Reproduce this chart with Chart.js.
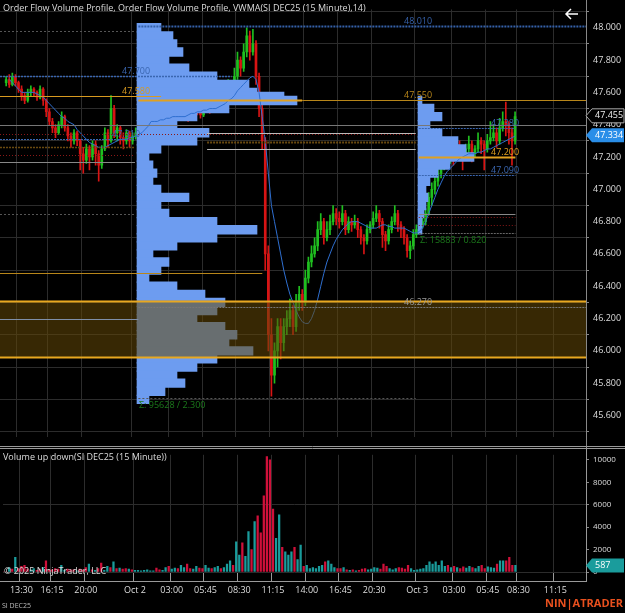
<!DOCTYPE html>
<html>
<head>
<meta charset="utf-8">
<script src="https://cdn.jsdelivr.net/npm/chart.js@4.4.1/dist/chart.umd.min.js"></script>
<style>
  body { margin:0; background:#000; }
  #wrap { position:relative; width:625px; height:613px; overflow:hidden; background:#000; }
  canvas { position:absolute; left:0; }
  #top { top:0; }
  #vol { top:446px; }
</style>
</head>
<body>
<div id="wrap">
  <canvas id="top" width="625" height="446"></canvas>
  <canvas id="vol" width="625" height="167"></canvas>
</div>
<script>
const N = 191;
const timeIdx = [6,16,27,43,55,66,77,88,99,110,121,135,147,158,168,180];
const timeLabels = ['13:30','16:15','20:00','Oct 2','03:00','05:45','08:30','11:15','14:00','16:45','20:30','Oct 3','03:00','05:45','08:30','11:15'];

// [open, high, low, close] per 15 minute bar
const candles = [null,null,
[47.66,47.70,47.64,47.68],[47.68,47.71,47.63,47.65],[47.65,47.72,47.64,47.70],[47.70,47.71,47.64,47.66],[47.66,47.67,47.60,47.62],
[47.62,47.64,47.55,47.58],[47.58,47.60,47.53,47.55],[47.55,47.62,47.54,47.60],[47.60,47.64,47.58,47.62],[47.62,47.63,47.58,47.60],
[47.60,47.61,47.55,47.57],[47.57,47.64,47.56,47.62],[47.62,47.63,47.52,47.55],[47.55,47.56,47.45,47.48],[47.48,47.50,47.40,47.42],
[47.42,47.44,47.35,47.38],[47.38,47.40,47.32,47.35],[47.35,47.42,47.34,47.40],[47.40,47.48,47.38,47.45],[47.45,47.46,47.36,47.38],
[47.38,47.40,47.30,47.33],[47.33,47.35,47.26,47.30],[47.30,47.37,47.28,47.35],[47.35,47.36,47.27,47.30],[47.30,47.31,47.12,47.22],
[47.22,47.26,47.10,47.18],[47.18,47.28,47.16,47.25],[47.25,47.27,47.12,47.20],[47.20,47.30,47.18,47.28],[47.28,47.30,47.15,47.22],
[47.22,47.24,47.05,47.15],[47.15,47.27,47.13,47.25],[47.25,47.38,47.24,47.35],[47.35,47.37,47.26,47.30],[47.30,47.58,47.29,47.50],
[47.50,47.52,47.32,47.35],[47.35,47.40,47.30,47.38],[47.38,47.39,47.28,47.32],[47.32,47.35,47.25,47.30],[47.30,47.37,47.28,47.35],
[47.35,47.36,47.26,47.30],[47.30,47.35,47.28,47.33],[47.33,47.38,47.31,47.35],[47.35,47.37,47.32,47.35],[47.35,47.40,47.33,47.38],
[47.38,47.42,47.36,47.40],[47.40,47.44,47.38,47.42],[47.42,47.47,47.40,47.45],[47.45,47.46,47.40,47.42],[47.42,47.43,47.37,47.40],
[47.40,47.46,47.39,47.44],[47.44,47.48,47.42,47.46],[47.46,47.47,47.41,47.43],[47.43,47.47,47.42,47.45],[47.45,47.50,47.44,47.48],
[47.48,47.49,47.43,47.45],[47.45,47.49,47.44,47.47],[47.47,47.52,47.46,47.50],[47.50,47.51,47.44,47.46],[47.46,47.47,47.42,47.44],
[47.44,47.49,47.43,47.47],[47.47,47.52,47.46,47.50],[47.50,47.51,47.46,47.48],[47.48,47.49,47.44,47.46],[47.46,47.52,47.45,47.50],
[47.50,47.55,47.49,47.52],[47.52,47.53,47.47,47.49],[47.49,47.52,47.48,47.50],[47.50,47.55,47.49,47.52],[47.52,47.53,47.48,47.50],
[47.50,47.58,47.49,47.55],[47.55,47.63,47.54,47.60],[47.60,47.68,47.58,47.65],[47.65,47.66,47.58,47.62],[47.62,47.75,47.60,47.70],
[47.70,47.85,47.68,47.80],[47.80,47.82,47.70,47.75],[47.75,47.90,47.73,47.85],[47.85,48.00,47.82,47.95],[47.95,47.98,47.80,47.85],
[47.85,47.99,47.83,47.90],[47.90,47.92,47.65,47.70],[47.70,47.72,47.45,47.50],[47.50,47.55,47.25,47.30],[47.30,47.32,46.50,46.60],
[46.60,46.65,46.00,46.10],[46.10,46.20,45.72,45.85],[45.85,46.05,45.80,46.00],[46.00,46.20,45.90,46.15],[46.15,46.20,45.95,46.05],
[46.05,46.20,46.00,46.15],[46.15,46.25,46.10,46.20],[46.20,46.32,46.15,46.25],[46.25,46.28,46.10,46.15],[46.15,46.35,46.12,46.30],
[46.30,46.40,46.25,46.35],[46.35,46.38,46.25,46.30],[46.30,46.50,46.28,46.45],[46.45,46.58,46.42,46.55],[46.55,46.65,46.52,46.60],
[46.60,46.70,46.58,46.65],[46.65,46.80,46.62,46.75],[46.75,46.85,46.72,46.80],[46.80,46.82,46.66,46.70],[46.70,46.80,46.68,46.75],
[46.75,46.84,46.72,46.80],[46.80,46.90,46.78,46.85],[46.85,46.88,46.78,46.82],[46.82,46.86,46.76,46.80],[46.80,46.90,46.78,46.85],
[46.85,46.87,46.72,46.75],[46.75,46.83,46.73,46.80],[46.80,46.82,46.74,46.78],[46.78,46.84,46.76,46.80],[46.80,46.82,46.70,46.75],
[46.75,46.77,46.66,46.70],[46.70,46.72,46.60,46.68],[46.68,46.78,46.66,46.75],[46.75,46.80,46.73,46.78],[46.78,46.86,46.76,46.82],
[46.82,46.90,46.80,46.85],[46.85,46.87,46.76,46.80],[46.80,46.82,46.64,46.72],[46.72,46.74,46.62,46.68],[46.68,46.78,46.66,46.75],
[46.75,46.83,46.73,46.80],[46.80,46.90,46.78,46.85],[46.85,46.87,46.74,46.78],[46.78,46.80,46.70,46.75],[46.75,46.77,46.66,46.70],
[46.70,46.72,46.58,46.62],[46.62,46.68,46.57,46.65],[46.65,46.75,46.63,46.72],[46.72,46.78,46.70,46.75],[46.75,46.80,46.73,46.78],
[46.78,46.84,46.76,46.80],[46.80,46.88,46.78,46.85],[46.85,46.98,46.84,46.95],[46.95,47.04,46.90,47.00],[47.00,47.08,46.97,47.05],
[47.05,47.14,47.02,47.10],[47.10,47.18,47.07,47.15],[47.15,47.23,47.12,47.20],[47.20,47.22,47.14,47.18],[47.18,47.26,47.16,47.22],
[47.22,47.24,47.15,47.20],[47.20,47.28,47.18,47.25],[47.25,47.30,47.18,47.22],[47.22,47.24,47.12,47.20],[47.20,47.28,47.18,47.25],
[47.25,47.33,47.23,47.28],[47.28,47.30,47.17,47.22],[47.22,47.27,47.20,47.25],[47.25,47.35,47.23,47.30],[47.30,47.32,47.22,47.28],
[47.28,47.30,47.12,47.25],[47.25,47.34,47.23,47.30],[47.30,47.42,47.28,47.32],[47.32,47.40,47.30,47.35],[47.35,47.38,47.26,47.30],
[47.30,47.44,47.28,47.38],[47.38,47.48,47.36,47.42],[47.42,47.54,47.33,47.40],[47.40,47.42,47.28,47.35],[47.35,47.38,47.15,47.30],
[47.30,47.48,47.28,47.45]
];

const vwma = [null,null,null,47.68,47.66,47.64,47.62,47.60,47.60,47.60,47.60,47.60,47.59,47.58,47.57,47.55,47.53,47.51,47.49,47.47,
47.45,47.44,47.42,47.41,47.40,47.37,47.35,47.33,47.31,47.29,47.28,47.27,47.26,47.26,47.26,47.27,47.28,47.29,47.30,47.31,
47.31,47.31,47.32,47.32,47.33,47.34,47.35,47.37,47.39,47.42,47.42,47.42,47.43,47.43,47.44,47.44,47.45,47.45,47.45,47.45,
47.45,47.46,47.47,47.47,47.48,47.48,47.49,47.49,47.50,47.50,47.50,47.51,47.52,47.53,47.55,47.56,47.58,47.61,47.63,47.65,
47.67,47.69,47.70,47.68,47.60,47.45,47.30,47.10,46.90,46.80,46.70,46.60,46.50,46.42,46.35,46.30,46.25,46.21,46.18,46.17,
46.17,46.20,46.25,46.32,46.40,46.48,46.55,46.60,46.65,46.69,46.72,46.75,46.77,46.79,46.80,46.80,46.80,46.79,46.78,46.77,
46.76,46.76,46.76,46.77,46.78,46.78,46.77,46.77,46.76,46.76,46.76,46.76,46.75,46.74,46.73,46.73,46.74,46.76,46.80,46.85,
46.90,46.95,47.00,47.04,47.08,47.11,47.13,47.15,47.17,47.19,47.20,47.21,47.22,47.22,47.22,47.23,47.23,47.24,47.25,47.25,
47.26,47.27,47.28,47.29,47.30,47.31,47.32,47.33];

const volumes = [0,0,400,250,1300,300,500,600,250,200,
300,150,250,400,1000,200,200,300,250,600,
150,250,200,200,100,250,200,400,700,200,
150,300,800,150,500,400,900,300,350,250,
300,250,200,150,150,100,150,200,100,100,
350,200,150,400,500,250,350,300,600,400,
700,300,250,500,350,300,600,350,300,400,
500,300,400,700,1000,600,2700,1500,2600,1400,
3600,2000,4500,5000,3500,6800,10300,10000,5600,3000,
5100,2200,1800,1500,1800,2200,1100,2400,500,600,
300,400,300,500,600,900,1000,700,400,300,
300,400,200,150,200,100,150,250,300,200,
250,400,350,250,700,500,300,200,300,400,
350,250,600,300,150,200,250,300,600,900,
700,900,600,1000,500,600,400,500,400,300,
450,350,500,400,300,500,600,300,450,400,
350,700,1000,1000,1000,1300,600,587];

// session profiles: price rows and volume (arbitrary units)
const prof1Prices = [48.00,47.95,47.90,47.85,47.80,47.75,47.70,47.65,47.60,47.575,47.55,47.50,47.45,47.40,47.35,47.30,47.25,47.20,47.15,47.10,
47.05,47.00,46.95,46.90,46.85,46.80,46.75,46.70,46.65,46.60,46.55,46.50,46.45,46.40,46.35,46.30,46.25,46.20,46.15,46.10,
46.05,46.00,45.95,45.90,45.85,45.80,45.75,45.70];
const prof1Vol = [24,36,40,46,32,52,80,112,120,147,160,92,60,40,72,60,24,12,16,20,
16,24,52,24,32,80,120,80,40,16,32,24,12,40,68,88,80,60,88,100,
92,116,80,60,40,48,28,12];
const prof2Prices = [47.55,47.50,47.45,47.40,47.35,47.30,47.25,47.20,47.15,47.10,47.05,47.00,46.95,46.90,46.85,46.80,46.75];
const prof2Vol = [4,16,24,12,24,40,48,56,32,20,12,8,10,8,6,4,4];

const slotLabels = Array(N).fill('');
timeIdx.forEach((k, i) => slotLabels[k] = timeLabels[i]);

const UP = '#1fbf1f', DN = '#d81414';
const font9 = { family: 'Open Sans', size: 9 };

const levels = [
  { p:48.01, a:44.6, b:N, c:'#3560a8', w:2, d:[2,1], t:'48.010', tx:404 },
  { p:47.98, a:0, b:43.5, c:'#555', w:1, d:[2,2] },
  { p:47.70, a:0, b:75, c:'#3a66b0', w:1.5, d:[2,1], t:'47.700', tx:122 },
  { p:47.58, a:0, b:52, c:'#d89a20', w:1, d:[], t:'47.580', tx:122 },
  { p:47.55, a:44.6, b:98, c:'#e0a020', w:2, d:[] },
  { p:47.55, a:98, b:N, c:'#b8861a', w:1, d:[], t:'47.550', tx:404 },
  { p:47.40, a:0, b:N, c:'#777', w:1, d:[] },
  { p:47.38, a:136, b:167.5, c:'#3a66b0', w:1, d:[2,1], t:'47.380', tx:491 },
  { p:47.35, a:67, b:135, c:'#bbb', w:1, d:[] },
  { p:47.34, a:0, b:135, c:'#8a1818', w:1, d:[1,2] },
  { p:47.31, a:0, b:43.5, c:'#3a66b0', w:1, d:[2,1], t:'47.310', tx:112 },
  { p:47.29, a:67, b:135, c:'#6a4a10', w:2, d:[2,1] },
  { p:47.26, a:0, b:43.5, c:'#6a4a10', w:1.5, d:[2,1] },
  { p:47.25, a:67, b:135, c:'#bbb', w:1, d:[] },
  { p:47.21, a:0, b:43.5, c:'#8a1818', w:1, d:[1,2] },
  { p:47.20, a:136, b:167.5, c:'#e0a020', w:2, d:[], t:'47.200', tx:491 },
  { p:47.17, a:0, b:43.5, c:'#888', w:1, d:[] },
  { p:47.09, a:136, b:167.5, c:'#3a66b0', w:1, d:[2,1], t:'47.090', tx:491 },
  { p:46.85, a:0, b:43.5, c:'#555', w:1, d:[2,2] },
  { p:46.85, a:136, b:167.5, c:'#888', w:1, d:[] },
  { p:46.83, a:136, b:167.5, c:'#8a1818', w:1, d:[1,2] },
  { p:46.78, a:136, b:167.5, c:'#8a1818', w:1, d:[1,2] },
  { p:46.73, a:136, b:167.5, c:'#666', w:1, d:[2,1] },
  { p:46.48, a:0, b:85, c:'#b8861a', w:1, d:[] },
  { p:46.31, a:0, b:N, c:'#e8a820', w:2, d:[] },
  { p:46.27, a:44.6, b:N, c:'#777', w:1, d:[2,1], t:'46.270', tx:404 },
  { p:46.20, a:0, b:44.6, c:'#7f8fa8', w:1, d:[] },
  { p:45.96, a:0, b:N, c:'#e8a820', w:2, d:[] },
  { p:45.71, a:44.6, b:135, c:'#555', w:1, d:[2,2] }
];

const fixY = s => { s.width = 39; };
const gridX = { color: c => (slotLabels[c.index] ? '#2c2c2c' : 'transparent'), lineWidth: 1, drawTicks: false };

const topOverlay = {
  id: 'topOverlay',
  afterDatasetsDraw(ch) {
    const { ctx, chartArea: A, scales: { x, y } } = ch;
    const px = i => Math.min(A.right, A.left + (i + 0.5) * (A.right - A.left) / N);
    ctx.save();
    ctx.fillStyle = 'rgba(100,72,8,0.55)';
    ctx.fillRect(A.left, y.getPixelForValue(46.31), A.right - A.left, y.getPixelForValue(45.96) - y.getPixelForValue(46.31));
    ctx.font = '9px "Open Sans"';
    levels.forEach(l => {
      const yy = Math.round(y.getPixelForValue(l.p)) + 0.5;
      ctx.strokeStyle = l.c; ctx.lineWidth = l.w; ctx.setLineDash(l.d);
      ctx.beginPath(); ctx.moveTo(l.a === 0 ? A.left : px(l.a), yy); ctx.lineTo(l.b >= N ? A.right : px(l.b), yy); ctx.stroke();
      if (l.t) { ctx.fillStyle = l.c === '#777' ? '#999' : l.c; ctx.textAlign = 'left'; ctx.fillText(l.t, l.tx, yy - 3); }
    });
    ctx.setLineDash([]);
    ctx.fillStyle = '#1b7a1b';
    ctx.fillText('\u03A3: 95628 / 2.300', 139, y.getPixelForValue(45.71) + 10);
    ctx.fillText('\u03A3: 15883 / 0.820', 420, y.getPixelForValue(46.73) + 10);
    ctx.restore();
  },
  afterDraw(ch) {
    const { ctx, chartArea: A, scales: { y } } = ch;
    ctx.save();
    ctx.font = '9px "Open Sans"';
    ctx.fillStyle = '#ddd'; ctx.textBaseline = 'middle';
    ctx.fillText('Order Flow Volume Profile, Order Flow Volume Profile, VWMA(SI DEC25 (15 Minute),14)', 3, 8);
    ctx.strokeStyle = '#fff'; ctx.lineWidth = 1.5;
    ctx.beginPath(); ctx.moveTo(578, 14); ctx.lineTo(566, 14); ctx.moveTo(571, 9); ctx.lineTo(566, 14); ctx.lineTo(571, 19); ctx.stroke();
    ctx.strokeStyle = '#888'; ctx.lineWidth = 1;
    ctx.beginPath(); ctx.moveTo(A.right + 0.5, 0); ctx.lineTo(A.right + 0.5, 446); ctx.stroke();
    const flag = (p, bg, fg, bd) => {
      const yy = y.getPixelForValue(p);
      ctx.beginPath(); ctx.moveTo(A.right, yy); ctx.lineTo(A.right + 6, yy - 7); ctx.lineTo(624, yy - 7); ctx.lineTo(624, yy + 7); ctx.lineTo(A.right + 6, yy + 7); ctx.closePath();
      ctx.fillStyle = bg; ctx.fill(); if (bd) { ctx.strokeStyle = bd; ctx.stroke(); }
      ctx.fillStyle = fg; ctx.textAlign = 'left'; ctx.fillText(p.toFixed(3), A.right + 9, yy);
    };
    flag(47.455, '#000', '#eee', '#aaa');
    flag(47.334, '#2a8ee8', '#fff');
    ctx.restore();
  }
};

const candleData = (f) => candles.map(c => c ? f(c) : null);
const candleColor = candles.map(c => c && c[3] >= c[0] ? UP : DN);

new Chart(document.getElementById('top'), {
  data: {
    labels: slotLabels,
    datasets: [
      { type:'bar', data: candleData(c => [c[2], c[1]]), backgroundColor: candleColor, barThickness: 1, grouped:false, order: 4 },
      { type:'bar', data: candleData(c => [Math.min(c[0], c[3]), Math.max(c[0], c[3]) + (c[0] === c[3] ? 0.005 : 0)]), backgroundColor: candleColor, barThickness: 2, grouped:false, order: 3 },
      { type:'bar', indexAxis:'y', xAxisID:'xp', data: prof1Prices.map((p, i) => ({ x:[137, 137 + prof1Vol[i]], y:p })), backgroundColor:'#6d9cf0', barThickness: 8.7, grouped:false, order: 2 },
      { type:'bar', indexAxis:'y', xAxisID:'xp', data: prof2Prices.map((p, i) => ({ x:[418, 418 + prof2Vol[i]], y:p })), backgroundColor:'#6d9cf0', barThickness: 8.7, grouped:false, order: 2 },
      { type:'line', data: vwma, borderColor:'#2f6fd0', borderWidth: 1, pointRadius: 0, spanGaps: true, order: 1 }
    ]
  },
  options: {
    responsive: false, animation: false,
    layout: { padding: { top: 2, bottom: 0, left: 0, right: 0 } },
    plugins: { legend: { display:false }, tooltip: { enabled:false } },
    scales: {
      x: { type:'category', offset:false, ticks:{ display:false }, grid: gridX, border:{ display:false }, afterFit: s => { s.height = 0; } },
      xp: { type:'linear', min:0, max:586, display:false },
      y: { type:'linear', position:'right', min:45.571, max:48.012,
           afterBuildTicks: s => { s.ticks = []; for (let v = 45.6; v <= 48.0001; v += 0.2) s.ticks.push({ value: +v.toFixed(1) }); },
           ticks:{ color:'#ddd', font: font9, padding: 4, callback: v => v.toFixed(3) },
           grid:{ color:'#2c2c2c', drawTicks:true, tickLength: 3, tickColor:'#888' }, border:{ display:false }, afterFit: fixY }
    }
  },
  plugins: [topOverlay]
});

const volOverlay = {
  id: 'volOverlay',
  afterDraw(ch) {
    const { ctx, chartArea: A, scales: { y } } = ch;
    ctx.save();
    ctx.strokeStyle = '#999'; ctx.lineWidth = 1;
    ctx.beginPath(); ctx.moveTo(0, 0.5); ctx.lineTo(625, 0.5); ctx.moveTo(0, 2.5); ctx.lineTo(625, 2.5); ctx.stroke();
    ctx.beginPath(); ctx.moveTo(A.right + 0.5, 0); ctx.lineTo(A.right + 0.5, A.bottom + 10); ctx.stroke();
    ctx.beginPath(); ctx.moveTo(0, A.bottom + 9.5); ctx.lineTo(A.right, A.bottom + 9.5); ctx.stroke();
    ctx.font = '9px "Open Sans"'; ctx.textBaseline = 'middle';
    ctx.fillStyle = '#ddd';
    ctx.fillText('Volume up down(SI DEC25 (15 Minute))', 3, 11);
    ctx.fillText('\u00A9 2025 NinjaTrader, LLC', 4, A.bottom - 1);
    ctx.font = '7px "Open Sans"'; ctx.fillStyle = '#bbb';
    ctx.fillText('SI DEC25', 2, 160);
    ctx.font = 'bold 11px "Open Sans"'; ctx.fillStyle = '#e8501e'; ctx.textAlign = 'right';
    ctx.fillText('NIN|ATRADER', 623, 158);
    const yy = y.getPixelForValue(587);
    ctx.beginPath(); ctx.moveTo(A.right, yy); ctx.lineTo(A.right + 6, yy - 7); ctx.lineTo(624, yy - 7); ctx.lineTo(624, yy + 7); ctx.lineTo(A.right + 6, yy + 7); ctx.closePath();
    ctx.fillStyle = '#1a9c9c'; ctx.fill();
    ctx.fillStyle = '#fff'; ctx.textAlign = 'left'; ctx.font = '9px "Open Sans"';
    ctx.fillText('587', A.right + 9, yy);
    ctx.restore();
  }
};

new Chart(document.getElementById('vol'), {
  type: 'bar',
  data: {
    labels: slotLabels,
    datasets: [{ data: volumes, backgroundColor: candleColor.map(c => c === UP ? '#1a9c9c' : '#d0103a'), barThickness: 1.6 }]
  },
  options: {
    responsive: false, animation: false,
    layout: { padding: { top: 0, bottom: 0, left: 0, right: 0 } },
    plugins: { legend: { display:false }, tooltip: { enabled:false } },
    scales: {
      x: { offset:false, grid: { color: c => (slotLabels[c.index] ? '#2c2c2c' : 'transparent'), tickLength: 10, tickColor: c => (slotLabels[c.index] ? '#999' : 'transparent') },
           border:{ display:false },
           ticks:{ autoSkip:false, maxRotation:0, color:'#ddd', font: font9, padding: 3, callback: (v, i) => slotLabels[i] },
           afterFit: s => { s.height = 41; } },
      y: { position:'right', min:0, max:10450,
           afterBuildTicks: s => { s.ticks = []; for (let v = 0; v <= 10000; v += 1000) s.ticks.push({ value: v }); },
           ticks:{ color:'#ddd', font: { family:'Open Sans', size: 8 }, padding: 4, callback: v => String(v) },
           grid:{ color: c => (c.tick && c.tick.value % 3000 === 0 ? '#2c2c2c' : 'transparent'), tickLength: 3, tickColor:'#888' },
           border:{ display:false }, afterFit: fixY }
    }
  },
  plugins: [volOverlay]
});
</script>
</body>
</html>
